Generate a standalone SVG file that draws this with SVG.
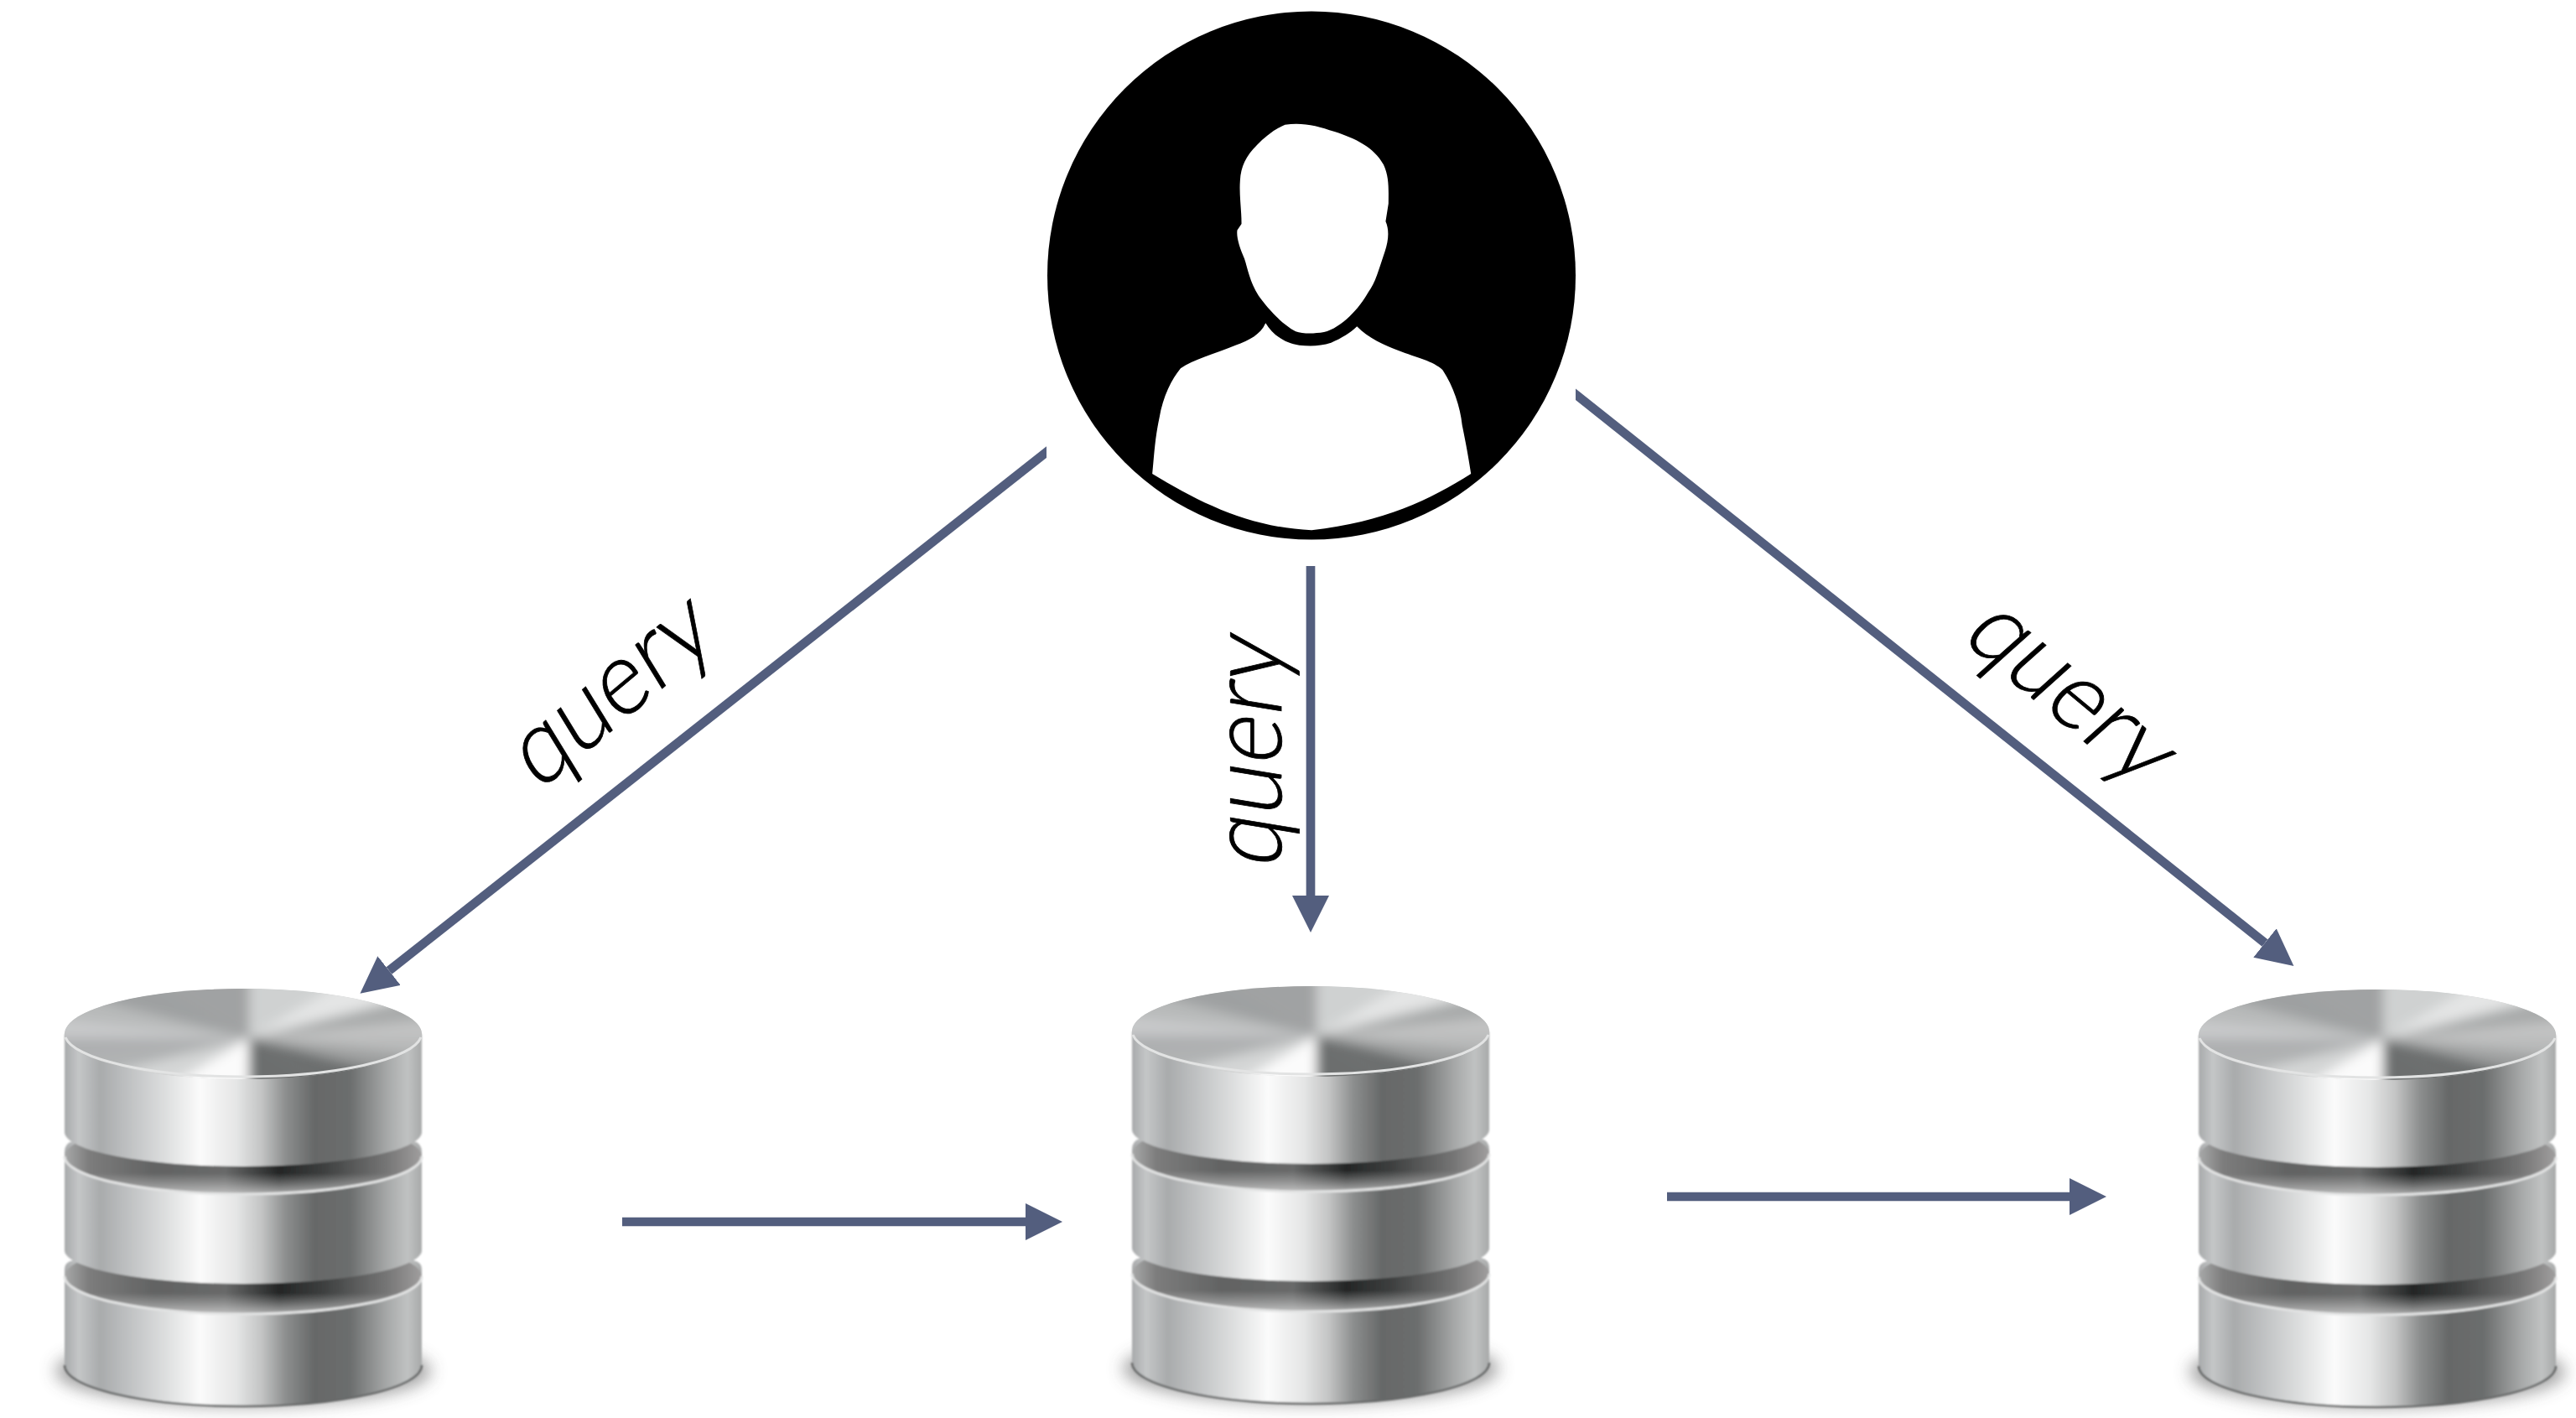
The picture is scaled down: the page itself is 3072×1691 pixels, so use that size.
<svg xmlns="http://www.w3.org/2000/svg" xmlns:xlink="http://www.w3.org/1999/xlink" width="3072" height="1691" viewBox="0 0 3072 1691">
<style>
.conn{stroke:#535e7e;stroke-width:10.7;fill:none;marker-end:url(#head)}
.lbl{font-family:"Lato","Open Sans","Liberation Sans",sans-serif;font-weight:300;font-size:100px;fill:#000;stroke:#000;stroke-width:.7}
.body{fill:url(#metal)}
.rim{fill:none;stroke:#e2e3e3;stroke-width:3}
</style>
<defs>
<marker id="head" markerUnits="userSpaceOnUse" markerWidth="44" markerHeight="44" viewBox="0 0 44 44" refX="0" refY="22" orient="auto"><path d="M0,0L44,22L0,44Z" fill="#535e7e"/></marker>
<clipPath id="connClip"><path d="M0,0H1248V600H1879V0H3072V1691H0Z"/></clipPath>
<linearGradient id="metal" x1="0" x2="1" y1="0" y2="0">
<stop offset="0" stop-color="#a8aaab"/><stop offset=".04" stop-color="#c4c6c7"/><stop offset=".1" stop-color="#a9abac"/><stop offset=".2" stop-color="#c5c7c8"/><stop offset=".32" stop-color="#e8e9e9"/><stop offset=".38" stop-color="#fbfbfb"/><stop offset=".48" stop-color="#e5e6e6"/><stop offset=".55" stop-color="#c4c5c5"/><stop offset=".62" stop-color="#8c8e8e"/><stop offset=".7" stop-color="#666868"/><stop offset=".8" stop-color="#6c6e6e"/><stop offset=".9" stop-color="#a5a7a7"/><stop offset=".96" stop-color="#c0c2c2"/><stop offset="1" stop-color="#a8aaaa"/>
</linearGradient>
<linearGradient id="groove" x1="0" x2="1" y1="0" y2="0">
<stop offset="0" stop-color="#a8a9a9"/><stop offset=".07" stop-color="#7c7c7c"/><stop offset=".25" stop-color="#626363"/><stop offset=".45" stop-color="#686969"/><stop offset=".6" stop-color="#242626"/><stop offset=".72" stop-color="#3c3e3e"/><stop offset=".9" stop-color="#757575"/><stop offset="1" stop-color="#a09e9e"/>
</linearGradient>
<linearGradient id="grooveFade" x1="0" x2="0" y1="0" y2="1">
<stop offset=".72" stop-color="#ccc" stop-opacity="0"/><stop offset="1" stop-color="#dcdcdc" stop-opacity=".75"/>
</linearGradient>
<filter id="soft" x="-10%" y="-30%" width="120%" height="160%"><feGaussianBlur stdDeviation="7"/></filter>
<filter id="shadow" x="-20%" y="-50%" width="140%" height="200%"><feGaussianBlur stdDeviation="10"/></filter>
<filter id="tiny" x="-5%" y="-5%" width="110%" height="110%"><feGaussianBlur stdDeviation="1.2"/></filter>
<clipPath id="topClip"><ellipse cx="213" cy="54" rx="213" ry="54"/></clipPath>
<g id="cyl">
<ellipse cx="213" cy="456" rx="224" ry="42" fill="#444" opacity=".5" filter="url(#shadow)"/>
<g filter="url(#tiny)">
<path class="body" d="M0,335Q0,326 10,324L416,324Q426,326 426,335V449A213,49 0 0 1 0,449Z"/>
<path d="M0,449A213,49 0 0 0 426,449" fill="none" stroke="#666868" stroke-width="2.5"/>
<ellipse cx="213" cy="343" rx="213" ry="45" fill="url(#groove)"/>
<ellipse cx="213" cy="343" rx="213" ry="45" fill="url(#grooveFade)"/>
<path class="rim" d="M0,343A213,45 0 0 0 426,343"/>
<path class="body" d="M0,195Q0,184 10,182L416,182Q426,184 426,195V312A213,40 0 0 1 0,312Z"/>
<ellipse cx="213" cy="200" rx="213" ry="45" fill="url(#groove)"/>
<ellipse cx="213" cy="200" rx="213" ry="45" fill="url(#grooveFade)"/>
<path class="rim" d="M0,200A213,45 0 0 0 426,200"/>
<path class="body" d="M0,54V171A213,41 0 0 0 426,171V54Z"/>
</g>
<g clip-path="url(#topClip)">
<ellipse cx="213" cy="54" rx="213" ry="54" fill="#c0c2c2"/>
<g filter="url(#soft)">
<path fill="#b8b9b9" d="M220,59L520,59L497,88Z"/>
<path fill="#9c9e9e" d="M220,59L497,88L432,112Z"/>
<path fill="#6c6e6e" d="M220,59L432,112L335,128Z"/>
<path fill="#6c6e6e" d="M220,59L335,128L220,134Z"/>
<path fill="#fbfbfb" d="M220,59L220,134L105,128Z"/>
<path fill="#d4d6d6" d="M220,59L105,128L8,112Z"/>
<path fill="#b0b2b3" d="M220,59L8,112L-57,88Z"/>
<path fill="#adafb0" d="M220,59L-57,88L-80,59Z"/>
<path fill="#c8c9ca" d="M220,59L-80,59L-57,30Z"/>
<path fill="#b8baba" d="M220,59L-57,30L8,6Z"/>
<path fill="#9ea0a1" d="M220,59L8,6L105,-10Z"/>
<path fill="#a0a2a3" d="M220,59L105,-10L220,-16Z"/>
<path fill="#cfd1d1" d="M220,59L220,-16L335,-10Z"/>
<path fill="#e4e5e5" d="M220,59L335,-10L432,6Z"/>
<path fill="#a8aaaa" d="M220,59L432,6L497,30Z"/>
<path fill="#c2c3c3" d="M220,59L497,30L520,59Z"/>
</g>
</g>
<path class="rim" d="M1,58A213,52 0 0 0 425,58"/>
</g>
</defs>
<rect width="3072" height="1691" fill="#fff"/>
<g id="user">
<circle cx="1564" cy="328.5" r="315" fill="#000"/>
<g transform="translate(1220,0) scale(.4223)" fill="#fff">
<path d="M740,352C790,345 830,355 880,372C940,392 990,415 1018,465C1035,500 1032,540 1032,575L1024,625C1035,650 1032,680 1022,710C1005,760 995,800 975,825C950,870 900,925 850,938C820,943 790,943 770,936C730,915 690,870 665,835C640,795 635,760 625,730C612,700 602,670 605,650L617,632C617,590 610,550 613,510C615,470 630,440 660,410C685,385 710,365 740,352Z"/>
<path d="M685,912C705,945 740,970 780,975C810,978 840,978 870,968C900,955 925,940 943,922C975,955 1020,975 1060,990C1110,1010 1160,1020 1185,1045C1215,1090 1235,1150 1240,1200C1250,1250 1258,1290 1265,1338C1150,1410 1020,1475 815,1497C640,1490 500,1420 365,1338C370,1290 372,1240 385,1180C395,1120 420,1070 445,1040C480,1015 540,1000 600,975C640,960 670,945 685,912Z"/>
</g>
</g>
<g id="db-1"><use href="#cyl" transform="translate(77,1179)"/></g>
<g id="db-2"><use href="#cyl" transform="translate(1350,1176)"/></g>
<g id="db-3"><use href="#cyl" transform="translate(2622,1180)"/></g>
<g id="connectors" clip-path="url(#connClip)">
<path class="conn" d="M1270,521.7L464,1157.5"/>
<path class="conn" d="M1858,453.5L2701,1124.5"/>
<path class="conn" d="M1563,675V1068"/>
<path class="conn" d="M742,1457H1223"/>
<path class="conn" d="M1988,1427H2468"/>
</g>
<g id="labels">
<text class="lbl" transform="matrix(.867,-.728,.64,1.045,642,945)">query</text>
<text class="lbl" transform="matrix(0,-1.11,1.22,.2,1527.5,1037)">query</text>
<text class="lbl" transform="matrix(.87,.724,-.9,.806,2336.6,760.7)">query</text>
</g>
</svg>
